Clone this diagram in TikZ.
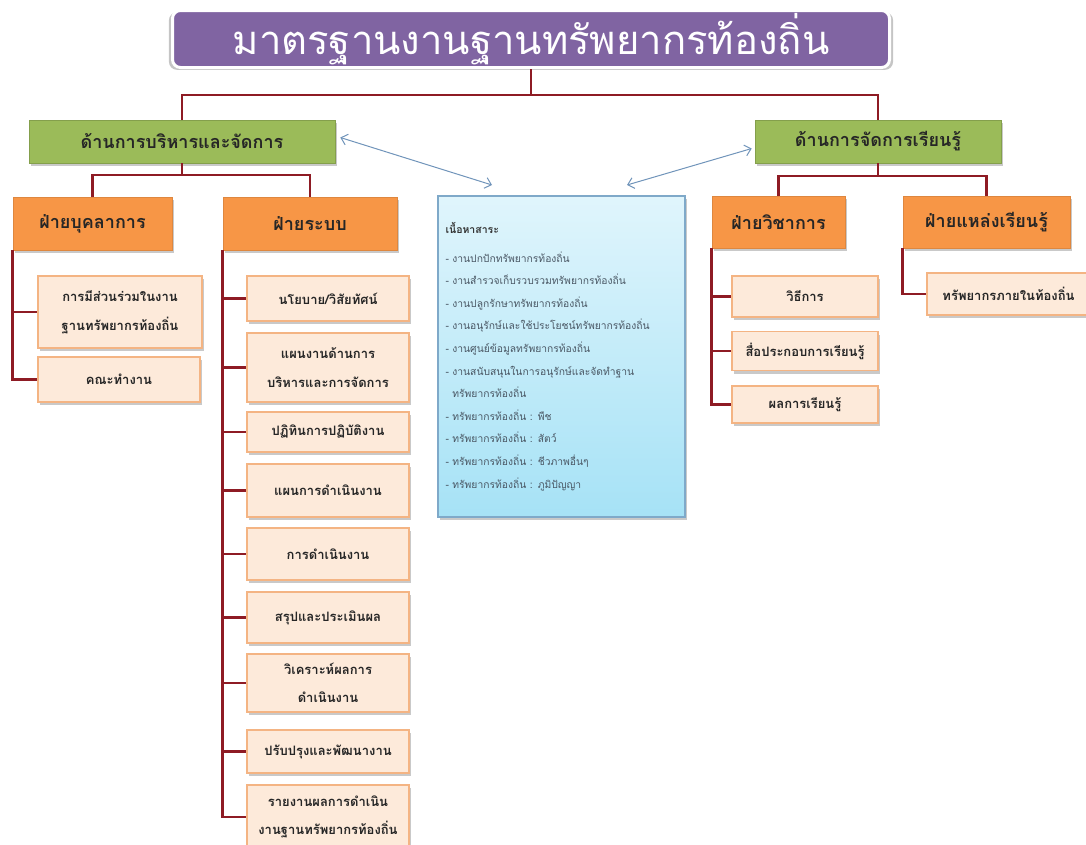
\documentclass[tikz,border=0pt]{standalone}
\usepackage{fontspec}
\newfontfamily\thai[Script=Thai]{Loma}
\usetikzlibrary{arrows.meta,shadows}

\definecolor{titlepurple}{HTML}{8064A2}
\definecolor{sidegreen}{HTML}{9BBB59}
\definecolor{deptorange}{HTML}{F79646}
\definecolor{peach}{HTML}{FDEADA}
\definecolor{peachline}{HTML}{F4B483}
\definecolor{trunkred}{HTML}{8E1B24}
\definecolor{skytop}{HTML}{E0F5FC}
\definecolor{skybottom}{HTML}{A6E2F6}
\definecolor{skyline}{HTML}{7FA9C9}
\definecolor{linkblue}{HTML}{7094BA}
\definecolor{itemgrey}{HTML}{4A5764}

\tikzset{
  boxshadow/.style={drop shadow={shadow xshift=2pt,shadow yshift=-3pt,opacity=.3,fill=black!70}},
  titlebox/.style={fill=titlepurple, draw=white, line width=3pt, rounded corners=8pt, inner sep=1pt,
    general shadow={fill=black!45,opacity=.5,shadow scale=1.01,shadow yshift=-2pt},
    text=white, font=\thai\fontsize{40}{42}\selectfont},
  sidebox/.style={fill=sidegreen, draw=sidegreen!85!black, line width=.6pt, boxshadow, inner sep=2pt,
    text=black!85, font=\thai\bfseries\fontsize{18}{20}\selectfont},
  deptbox/.style={fill=deptorange, draw=deptorange!90!black, line width=.6pt, boxshadow, inner sep=2pt,
    text=black!85, font=\thai\bfseries\fontsize{18}{20}\selectfont},
  leafbox/.style={fill=peach, draw=peachline, line width=1.2pt, boxshadow, align=center, inner sep=2pt,
    text=black!85, font=\thai\bfseries\fontsize{13}{28.5}\selectfont},
  trunk/.style={draw=trunkred, line width=2.8pt},
  link/.style={draw=linkblue, line width=1pt, {Straight Barb[length=6pt,width=11pt]}-{Straight Barb[length=6pt,width=11pt]}}
}

\begin{document}
\begin{tikzpicture}[x=1pt,y=-1pt]
\useasboundingbox (0,0) rectangle (1086,844);

% Title
\node[titlebox, minimum width=717pt, minimum height=57pt] (title) at (531,39) {มาตรฐานงานฐานทรัพยากรท้องถิ่น};

% Two sides
\node[sidebox, minimum width=306pt, minimum height=43pt] (adminSide) at (182,141.5) {ด้านการบริหารและจัดการ};
\node[sidebox, minimum width=246pt, minimum height=43pt] (learnSide) at (878,141.5) {ด้านการจัดการเรียนรู้};

% Departments
\node[deptbox, minimum width=159pt, minimum height=53pt] (staffDept) at (92.5,223.5) {ฝ่ายบุคลาการ};
\node[deptbox, minimum width=174pt, minimum height=53pt] (systemDept) at (310,223.5) {ฝ่ายระบบ};
\node[deptbox, minimum width=133pt, minimum height=52pt] (academicDept) at (778.5,222) {ฝ่ายวิชาการ};
\node[deptbox, minimum width=167pt, minimum height=52pt] (sourceDept) at (986.5,222) {ฝ่ายแหล่งเรียนรู้};

% Staff items
\node[leafbox, minimum width=164pt, minimum height=72pt] (share) at (120,312) {การมีส่วนร่วมในงาน\\ฐานทรัพยากรท้องถิ่น};
\node[leafbox, minimum width=162pt, minimum height=45pt] (team) at (119,379.5) {คณะทำงาน};

% System items
\node[leafbox, minimum width=162pt, minimum height=45pt] (policy) at (328,298.5) {นโยบาย/วิสัยทัศน์};
\node[leafbox, minimum width=162pt, minimum height=69pt] (plan) at (328,367.5) {แผนงานด้านการ\\บริหารและการจัดการ};
\node[leafbox, minimum width=162pt, minimum height=40pt] (calendar) at (328,432) {ปฏิทินการปฏิบัติงาน};
\node[leafbox, minimum width=162pt, minimum height=53pt] (opplan) at (328,490.5) {แผนการดำเนินงาน};
\node[leafbox, minimum width=162pt, minimum height=52pt] (operate) at (328,554) {การดำเนินงาน};
\node[leafbox, minimum width=162pt, minimum height=51pt] (assess) at (328,617.5) {สรุปและประเมินผล};
\node[leafbox, minimum width=162pt, minimum height=58pt] (analyse) at (328,683) {วิเคราะห์ผลการ\\ดำเนินงาน};
\node[leafbox, minimum width=162pt, minimum height=43pt] (improve) at (328,751.5) {ปรับปรุงและพัฒนางาน};
\node[leafbox, minimum width=162pt, minimum height=64pt] (report) at (328,817) {รายงานผลการดำเนิน\\งานฐานทรัพยากรท้องถิ่น};

% Academic items
\node[leafbox, minimum width=146pt, minimum height=41pt] (method) at (805,296.5) {วิธีการ};
\node[leafbox, minimum width=146pt, minimum height=39pt] (media) at (805,351) {สื่อประกอบการเรียนรู้};
\node[leafbox, minimum width=146pt, minimum height=37pt] (outcome) at (805,404.5) {ผลการเรียนรู้};

% Source item
\node[leafbox, minimum width=163pt, minimum height=42pt] (local) at (1008.5,294) {ทรัพยากรภายในท้องถิ่น};

% Content box
\node[draw=skyline, line width=1.2pt, top color=skytop, bottom color=skybottom, boxshadow,
  minimum width=247pt, minimum height=321pt, text width=232pt, align=left,
  text=itemgrey, font=\thai\fontsize{10.3}{22.6}\selectfont] (content) at (561.5,356.5)
  {{\color{black!80}\bfseries\fontsize{10.5}{12}\selectfont เนื้อหาสาระ}\\[6pt]
   - งานปกปักทรัพยากรท้องถิ่น\\
   - งานสำรวจเก็บรวบรวมทรัพยากรท้องถิ่น\\
   - งานปลูกรักษาทรัพยากรท้องถิ่น\\
   - งานอนุรักษ์และใช้ประโยชน์ทรัพยากรท้องถิ่น\\
   - งานศูนย์ข้อมูลทรัพยากรท้องถิ่น\\
   - งานสนับสนุนในการอนุรักษ์และจัดทำฐาน\\
   \hphantom{- }ทรัพยากรท้องถิ่น\\
   - ทรัพยากรท้องถิ่น : พืช\\
   - ทรัพยากรท้องถิ่น : สัตว์\\
   - ทรัพยากรท้องถิ่น : ชีวภาพอื่นๆ\\
   - ทรัพยากรท้องถิ่น : ภูมิปัญญา\\[18pt]};

% Red connectors
\coordinate (topBus) at (531,95);
\coordinate (adminBus) at (182,175);
\coordinate (learnBus) at (878,176);
\draw[trunk] (title.south) -- (topBus);
\draw[trunk] (adminSide.north) |- (topBus) -| (learnSide.north);
\draw[trunk] (adminSide.south) -- (adminBus);
\draw[trunk] (staffDept.north) |- (adminBus) -| (systemDept.north);
\draw[trunk] (learnSide.south) -- (learnBus);
\draw[trunk] (academicDept.north) |- (learnBus) -| (sourceDept.north);

\foreach \item in {share,team}
  \draw[trunk] (staffDept.south west) |- (\item.west);
\foreach \item in {policy,plan,calendar,opplan,operate,assess,analyse,improve,report}
  \draw[trunk] (systemDept.south west) |- (\item.west);
\foreach \item in {method,media,outcome}
  \draw[trunk] (academicDept.south west) |- (\item.west);
\draw[trunk] (sourceDept.south west) |- (local.west);

% Links to content
\coordinate (contentLeft) at (492,185);
\coordinate (contentRight) at (627,185);
\draw[link] ([xshift=5pt,yshift=4pt]adminSide.east) -- (contentLeft);
\draw[link] ([xshift=-3pt,yshift=-7pt]learnSide.west) -- (contentRight);
\end{tikzpicture}
\end{document}
